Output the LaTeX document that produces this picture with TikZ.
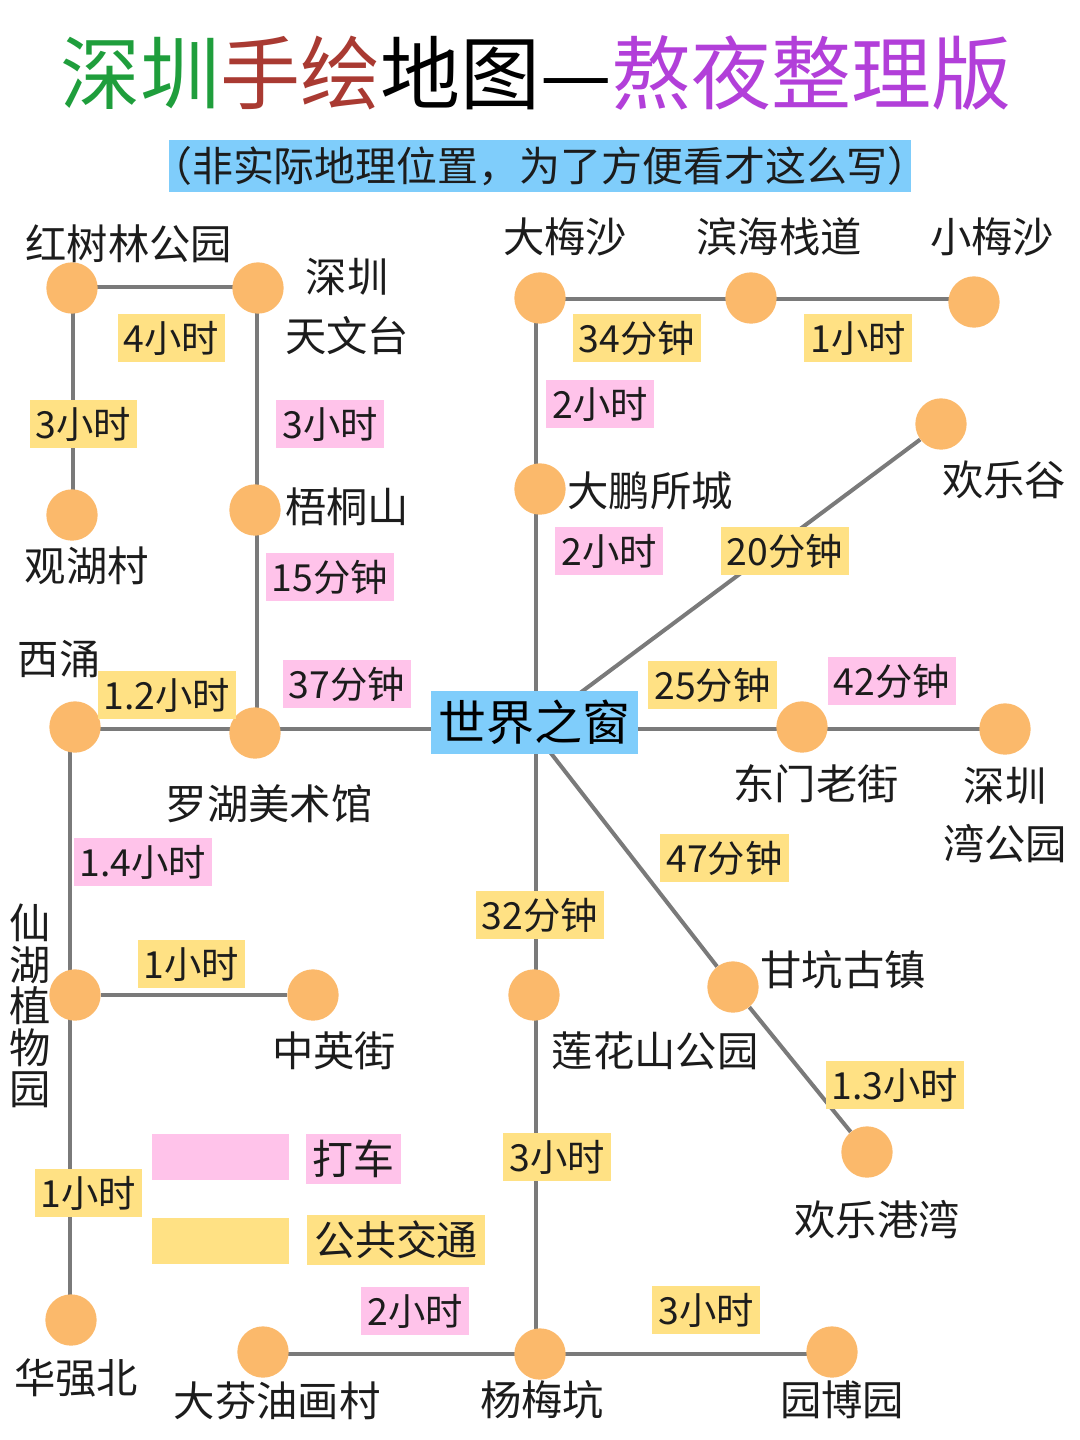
\documentclass[tikz,border=0pt]{standalone}
\usepackage{fontspec}
\usetikzlibrary{backgrounds}
\setmainfont{Noto Sans CJK SC}
\definecolor{pinkbox}{HTML}{FFC3EA}
\definecolor{yellowbox}{HTML}{FFE184}
\definecolor{bluebox}{HTML}{7FCDFB}
\definecolor{dot}{HTML}{FBB96B}
\definecolor{linegray}{HTML}{7A7A7A}
\definecolor{txt}{HTML}{1C1C1C}
\definecolor{tgreen}{HTML}{1F9E3C}
\definecolor{tred}{HTML}{A93A32}
\definecolor{tpurple}{HTML}{B23FD9}
\tikzset{
  station/.style={circle,fill=dot,inner sep=0pt,minimum size=38.5pt},
  route/.style={draw=linegray,line width=3pt},
  place/.style={inner sep=0pt,text=txt,font=\fontsize{31}{31.1}\selectfont,align=center},
  tag/.style={inner xsep=4.6pt,inner ysep=0pt,minimum height=35.5pt,text=txt,font=\fontsize{28}{30}\selectfont},
  pinktag/.style={tag,fill=pinkbox},
  yellowtag/.style={tag,fill=yellowbox},
  legendtag/.style={inner xsep=5.2pt,inner ysep=0pt,minimum height=38pt,text=txt,font=\fontsize{30.7}{31}\selectfont},
  swatch/.style={inner sep=0pt,minimum width=102.75pt,minimum height=34.5pt},
}
\begin{document}
\begin{tikzpicture}[x=0.75pt,y=-0.75pt]
\useasboundingbox (0,0) rectangle (1080,1440);
% stations
\node[station] (hongshu) at (72,288) {};
\node[station] (tianwen) at (258,288) {};
\node[station] (guanhu) at (72,515) {};
\node[station] (wutong) at (255,510) {};
\node[station] (xiyong) at (75,727) {};
\node[station] (luohu) at (255,733) {};
\node[station] (xianhu) at (75,995) {};
\node[station] (zhongying) at (313,995) {};
\node[station] (huaqiang) at (71,1320) {};
\node[station] (dafen) at (263,1352) {};
\node[station] (yangmei) at (540,1354) {};
\node[station] (yuanbo) at (832,1352) {};
\node[station] (lianhua) at (534,995) {};
\node[station] (ganken) at (733,987) {};
\node[station] (huangang) at (867,1152) {};
\node[station] (dameisha) at (540,298) {};
\node[station] (binhai) at (751,298) {};
\node[station] (xiaomei) at (974,302) {};
\node[station] (dapeng) at (540,489) {};
\node[station] (huanlegu) at (941,424) {};
\node[station] (dongmen) at (802,727) {};
\node[station] (wan) at (1005,729) {};
% hub
\node[fill=bluebox,inner sep=0pt,minimum width=155.5pt,minimum height=47pt,text=black,font=\fontsize{36}{37}\selectfont] (hub) at (534.5,722.5) {世界之窗};
\coordinate (hubwest) at (431,729);
\coordinate (hubeast) at (638,729);
\coordinate (hubnorth) at (536,700);
\coordinate (hubsouth) at (536,750);
\coordinate (hubne) at (580,693);
\coordinate (hubse) at (550,752);
\coordinate (leftrail) at (70,729);
\coordinate (toprail) at (540,299);
\coordinate (botrail) at (540,1354);
% connectors
\begin{pgfonlayer}{background}
\draw[route] ([yshift=0.75pt]hongshu.center) -- ([yshift=0.75pt]tianwen.center);
\draw[route] ([xshift=0.75pt]hongshu.center) -- ([xshift=0.75pt]guanhu.center);
\draw[route] ([xshift=-0.75pt]tianwen.center) -- ([xshift=1.5pt]wutong.center);
\draw[route] ([xshift=1.5pt]wutong.center) -- ([xshift=1.5pt]luohu.center);
\draw[route] (xiyong.center |- leftrail) -- (luohu.center |- leftrail);
\draw[route] (luohu.center |- leftrail) -- (hubwest);
\draw[route] (leftrail) -- (leftrail |- xianhu.center);
\draw[route] (xianhu) -- (zhongying);
\draw[route] (leftrail |- xianhu.center) -- (leftrail |- huaqiang.center);
\draw[route] (dameisha.center |- toprail) -- (binhai.center |- toprail);
\draw[route] (binhai.center |- toprail) -- (xiaomei.center |- toprail);
\draw[route] (hubnorth |- dameisha.center) -- (hubnorth |- dapeng.center);
\draw[route] (hubnorth |- dapeng.center) -- (hubnorth);
\draw[route] (hubne) -- (huanlegu);
\draw[route] (hubsouth) -- (hubsouth |- lianhua.center);
\draw[route] (hubsouth |- lianhua.center) -- (hubsouth |- yangmei.center);
\draw[route] (hubeast) -- (dongmen.center |- hubeast);
\draw[route] (dongmen.center |- hubeast) -- (wan.center |- hubeast);
\draw[route] (hubse) -- (ganken);
\draw[route] (ganken) -- (huangang);
\draw[route] (dafen.center |- botrail) -- (botrail);
\draw[route] (botrail) -- (yuanbo.center |- botrail);
\end{pgfonlayer}
% title
\node[inner sep=0pt,font=\fontsize{60}{61}\selectfont] (title) at (536,73)
  {\textcolor{tgreen}{深圳}\textcolor{tred}{手绘}\textcolor{black}{地图—}\textcolor{tpurple}{熬夜整理版}};
\node[fill=bluebox,inner sep=0pt,minimum width=556.5pt,minimum height=39pt] (subtitlebox) at (540,166) {};
\node[inner sep=0pt,text=txt,font=\fontsize{30.7}{31}\selectfont] (subtitle) at (540,166)
  {（非实际地理位置，为了方便看才这么写）};
% place names
\node[place] (n1) at (129,244) {红树林公园};
\node[place] (n2) at (347,277) {深圳};
\node[place] (n3) at (347,336) {天文台};
\node[place] (n4) at (87,566) {观湖村};
\node[place] (n5) at (347,507) {梧桐山};
\node[place] (n6) at (59,659) {西涌};
\node[place] (n7) at (269,804) {罗湖美术馆};
\node[place] (n8) at (30,1006) {仙\\湖\\植\\物\\园};
\node[place] (n9) at (334,1051) {中英街};
\node[place] (n10) at (76,1378) {华强北};
\node[place] (n11) at (277,1401) {大芬油画村};
\node[place] (n12) at (542,1400) {杨梅坑};
\node[place] (n13) at (842,1400) {园博园};
\node[place] (n14) at (655,1051) {莲花山公园};
\node[place] (n15) at (843,970) {甘坑古镇};
\node[place] (n16) at (877,1220) {欢乐港湾};
\node[place] (n17) at (565,237) {大梅沙};
\node[place] (n18) at (779,237) {滨海栈道};
\node[place] (n19) at (992,237) {小梅沙};
\node[place] (n20) at (650,491) {大鹏所城};
\node[place] (n21) at (1004,480) {欢乐谷};
\node[place] (n22) at (816,784) {东门老街};
\node[place] (n23) at (1005,786) {深圳};
\node[place] (n24) at (1005,844) {湾公园};
% time tags
\node[yellowtag] (t1) at (171.5,338) {4小时};
\node[yellowtag] (t2) at (83.5,424) {3小时};
\node[pinktag] (t3) at (330,424) {3小时};
\node[pinktag] (t4) at (330,577) {15分钟};
\node[yellowtag] (t5) at (167,695) {1.2小时};
\node[pinktag] (t6) at (347,684) {37分钟};
\node[pinktag] (t7) at (143,862) {1.4小时};
\node[yellowtag] (t8) at (191.5,964) {1小时};
\node[yellowtag] (t9) at (88.5,1193) {1小时};
\node[yellowtag] (t10) at (637,338) {34分钟};
\node[yellowtag] (t11) at (858,338) {1小时};
\node[pinktag] (t12) at (600,404) {2小时};
\node[pinktag] (t13) at (609,551) {2小时};
\node[yellowtag] (t14) at (785,551) {20分钟};
\node[yellowtag] (t15) at (712.5,685) {25分钟};
\node[pinktag] (t16) at (892,681) {42分钟};
\node[yellowtag] (t17) at (724.5,858) {47分钟};
\node[yellowtag] (t18) at (540,915) {32分钟};
\node[yellowtag] (t19) at (895,1085) {1.3小时};
\node[yellowtag] (t20) at (557,1157) {3小时};
\node[pinktag] (t21) at (415,1311) {2小时};
\node[yellowtag] (t22) at (706,1310) {3小时};
% legend
\node[swatch,fill=pinkbox] (lg1) at (220,1157) {};
\node[swatch,fill=yellowbox] (lg2) at (220,1241) {};
\node[legendtag,fill=pinkbox] (lt1) at (353.5,1159) {打车};
\node[legendtag,fill=yellowbox] (lt2) at (396,1240) {公共交通};
\end{tikzpicture}
\end{document}
